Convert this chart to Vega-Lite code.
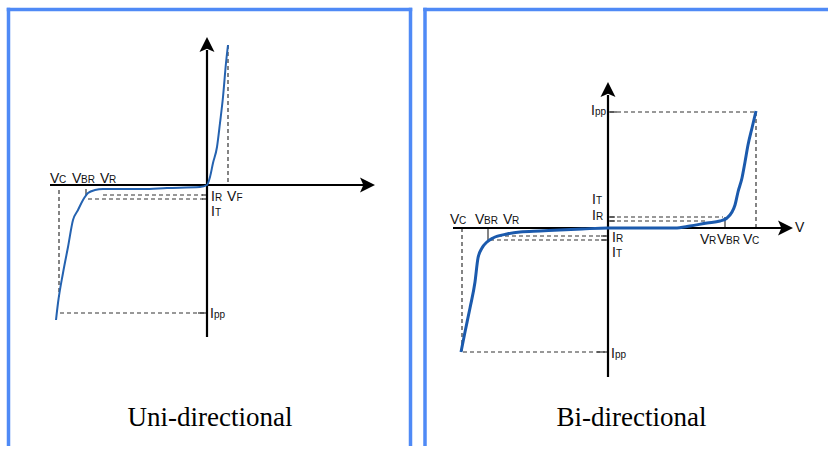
{
  "$schema": "https://vega.github.io/schema/vega-lite/v6.json",
  "padding": 0,
  "spacing": 0,
  "bounds": "flush",
  "background": "white",
  "config": {"view": {"stroke": null}},
  "datasets": {
    "curve1": [
      {"u": -151, "v": -135}, {"u": -149, "v": -118}, {"u": -144, "v": -88}, {"u": -139, "v": -62},
      {"u": -134, "v": -35}, {"u": -129, "v": -25}, {"u": -124, "v": -15}, {"u": -119, "v": -8},
      {"u": -112, "v": -5}, {"u": -104, "v": -4}, {"u": -64, "v": -4}, {"u": -40, "v": -3},
      {"u": -7, "v": -2}, {"u": 0, "v": 0}, {"u": 3, "v": 8}, {"u": 6, "v": 22}, {"u": 10, "v": 38},
      {"u": 13, "v": 62}, {"u": 16, "v": 88}, {"u": 19, "v": 122}, {"u": 21, "v": 140}
    ],
    "guides1": [
      {"u": -148, "v": -5, "u2": -148, "v2": -112},
      {"u": -147, "v": -128, "u2": -2, "v2": -128},
      {"u": 21, "v": 140, "u2": 21, "v2": 0},
      {"u": -104, "v": -10, "u2": -4, "v2": -10},
      {"u": -119, "v": -14, "u2": -4, "v2": -14}
    ],
    "ticks1": [
      {"u": -121, "v": -4, "u2": -121, "v2": -11},
      {"u": -5, "v": -10, "u2": -1, "v2": -10},
      {"u": -5, "v": -14, "u2": -1, "v2": -14},
      {"u": -9, "v": -128, "u2": -1, "v2": -128}
    ],
    "axes1": [
      {"u": 0, "v": 135, "u2": 0, "v2": -152},
      {"u": -157, "v": 0, "u2": 159, "v2": 0}
    ],
    "arrows1": [
      {"u": 0, "v": 140.5, "dir": "up"},
      {"u": 160.5, "v": 0, "dir": "right"}
    ],
    "labels1": [
      {"u": -157, "v": 2, "t": "V"}, {"u": -135, "v": 2, "t": "V"}, {"u": -107, "v": 2, "t": "V"},
      {"u": 4, "v": -16, "t": "I"}, {"u": 20, "v": -16, "t": "V"}, {"u": 4, "v": -31, "t": "I"},
      {"u": 3, "v": -133, "t": "I"}
    ],
    "subs1": [
      {"u": -148, "v": 2, "t": "C"}, {"u": -126, "v": 2, "t": "BR"}, {"u": -98, "v": 2, "t": "R"},
      {"u": 8, "v": -16, "t": "R"}, {"u": 29.5, "v": -16, "t": "F"}, {"u": 8, "v": -31, "t": "T"},
      {"u": 7, "v": -133, "t": "pp"}
    ],
    "border1": [
      {"u": -198.5, "v": 177.25, "u2": -198.5, "v2": -261},
      {"u": -200.25, "v": 175.5, "u2": 205.25, "v2": 175.5},
      {"u": 203.5, "v": 177.25, "u2": 203.5, "v2": -261}
    ],
    "title1": [{"u": 3, "v": -241, "t": "Uni-directional"}],
    "curve2": [
      {"u": -147, "v": -124}, {"u": -143, "v": -104}, {"u": -138, "v": -80}, {"u": -133, "v": -54},
      {"u": -130, "v": -30}, {"u": -126, "v": -20}, {"u": -121, "v": -14}, {"u": -115, "v": -10},
      {"u": -101, "v": -6}, {"u": -88, "v": -4}, {"u": -68, "v": -3}, {"u": -26, "v": -1},
      {"u": 0, "v": 0}, {"u": 67, "v": 0}, {"u": 82, "v": 2}, {"u": 99, "v": 5}, {"u": 112, "v": 7},
      {"u": 119, "v": 10}, {"u": 124, "v": 16}, {"u": 127, "v": 23}, {"u": 130, "v": 36},
      {"u": 134, "v": 50}, {"u": 137, "v": 66}, {"u": 140, "v": 83}, {"u": 144, "v": 100}, {"u": 148, "v": 117}
    ],
    "guides2": [
      {"u": 2, "v": 116, "u2": 148, "v2": 116},
      {"u": 148, "v": 116, "u2": 148, "v2": 0},
      {"u": -145, "v": -124, "u2": -3, "v2": -124},
      {"u": -146, "v": 0, "u2": -146, "v2": -124},
      {"u": 2, "v": 11, "u2": 115, "v2": 11},
      {"u": 2, "v": 7, "u2": 97, "v2": 7},
      {"u": -110, "v": -8, "u2": -2, "v2": -8},
      {"u": -118, "v": -12, "u2": -2, "v2": -12}
    ],
    "ticks2": [
      {"u": 117, "v": 11, "u2": 117, "v2": 0},
      {"u": -120, "v": 0, "u2": -120, "v2": -12},
      {"u": 1, "v": 11, "u2": 7, "v2": 11},
      {"u": 1, "v": 7, "u2": 7, "v2": 7},
      {"u": -7, "v": -8, "u2": -1, "v2": -8},
      {"u": -7, "v": -12, "u2": -1, "v2": -12},
      {"u": 0, "v": 116, "u2": 9, "v2": 116},
      {"u": -11, "v": -124, "u2": -1, "v2": -124}
    ],
    "axes2": [
      {"u": 0, "v": 133, "u2": 0, "v2": -149},
      {"u": -155, "v": 0, "u2": 177, "v2": 0}
    ],
    "arrows2": [
      {"u": 0, "v": 138.5, "dir": "up"},
      {"u": 177.5, "v": 0, "dir": "right"}
    ],
    "labels2": [
      {"u": -158, "v": 4, "t": "V"}, {"u": -133, "v": 4, "t": "V"}, {"u": -105, "v": 4, "t": "V"},
      {"u": -16, "v": 24, "t": "I"}, {"u": -16, "v": 8, "t": "I"}, {"u": 4, "v": -14, "t": "I"},
      {"u": 4, "v": -29, "t": "I"}, {"u": -17, "v": 113, "t": "I"}, {"u": 3, "v": -130, "t": "I"},
      {"u": 92, "v": -16, "t": "V"}, {"u": 109, "v": -16, "t": "V"}, {"u": 135, "v": -16, "t": "V"},
      {"u": 187, "v": -4, "t": "V"}
    ],
    "subs2": [
      {"u": -149, "v": 4, "t": "C"}, {"u": -124, "v": 4, "t": "BR"}, {"u": -96, "v": 4, "t": "R"},
      {"u": -12, "v": 24, "t": "T"}, {"u": -12, "v": 8, "t": "R"}, {"u": 8, "v": -14, "t": "R"},
      {"u": 8, "v": -29, "t": "T"}, {"u": -13, "v": 113, "t": "pp"}, {"u": 7, "v": -130, "t": "pp"},
      {"u": 101, "v": -16, "t": "R"}, {"u": 118, "v": -16, "t": "BR"}, {"u": 144, "v": -16, "t": "C"}
    ],
    "border2": [
      {"u": -183, "v": 220.25, "u2": -183, "v2": -218},
      {"u": -184.75, "v": 218.5, "u2": 220, "v2": 218.5}
    ],
    "title2": [{"u": 23.5, "v": -198, "t": "Bi-directional"}]
  },
  "hconcat": [
    {
      "width": 415,
      "height": 450,
      "encoding": {
        "x": {"field": "u", "type": "quantitative", "scale": {"domain": [-207, 208], "nice": false, "zero": false}, "axis": null},
        "y": {"field": "v", "type": "quantitative", "scale": {"domain": [-265, 185], "nice": false, "zero": false}, "axis": null}
      },
      "layer": [
        {"data": {"name": "border1"}, "mark": {"type": "rule", "color": "#4f8af6", "strokeWidth": 3.5}, "encoding": {"x2": {"field": "u2"}, "y2": {"field": "v2"}}},
        {"data": {"name": "guides1"}, "mark": {"type": "rule", "color": "#333333", "strokeWidth": 1.2, "strokeDash": [4, 3]}, "encoding": {"x2": {"field": "u2"}, "y2": {"field": "v2"}}},
        {"data": {"name": "ticks1"}, "mark": {"type": "rule", "color": "#333333", "strokeWidth": 1.2}, "encoding": {"x2": {"field": "u2"}, "y2": {"field": "v2"}}},
        {"data": {"name": "axes1"}, "mark": {"type": "rule", "color": "#000000", "strokeWidth": 2.2}, "encoding": {"x2": {"field": "u2"}, "y2": {"field": "v2"}}},
        {"data": {"name": "arrows1"}, "mark": {"type": "point", "filled": true, "color": "#000000", "size": 225, "opacity": 1, "strokeWidth": 0},
          "encoding": {"shape": {"field": "dir", "type": "nominal", "scale": {"domain": ["up", "right"], "range": ["M0,-1L1,1L0,0.55L-1,1Z", "M1,0L-1,1L-0.55,0L-1,-1Z"]}, "legend": null}}},
        {"data": {"name": "curve1"}, "mark": {"type": "line", "color": "#2462b0", "strokeWidth": 2, "interpolate": "monotone"}, "encoding": {}},
        {"data": {"name": "labels1"}, "mark": {"type": "text", "align": "left", "baseline": "alphabetic", "font": "Liberation Sans", "fontSize": 14, "color": "#111111"}, "encoding": {"text": {"field": "t"}}},
        {"data": {"name": "subs1"}, "mark": {"type": "text", "align": "left", "baseline": "alphabetic", "font": "Liberation Sans", "fontSize": 10, "color": "#111111"}, "encoding": {"text": {"field": "t"}}},
        {"data": {"name": "title1"}, "mark": {"type": "text", "align": "center", "baseline": "alphabetic", "font": "Liberation Serif", "fontSize": 27, "color": "#000000"}, "encoding": {"text": {"field": "t"}}}
      ]
    },
    {
      "width": 415,
      "height": 450,
      "encoding": {
        "x": {"field": "u", "type": "quantitative", "scale": {"domain": [-193, 222], "nice": false, "zero": false}, "axis": null},
        "y": {"field": "v", "type": "quantitative", "scale": {"domain": [-222, 228], "nice": false, "zero": false}, "axis": null}
      },
      "layer": [
        {"data": {"name": "border2"}, "mark": {"type": "rule", "color": "#4f8af6", "strokeWidth": 3.5}, "encoding": {"x2": {"field": "u2"}, "y2": {"field": "v2"}}},
        {"data": {"name": "guides2"}, "mark": {"type": "rule", "color": "#333333", "strokeWidth": 1.2, "strokeDash": [4, 3]}, "encoding": {"x2": {"field": "u2"}, "y2": {"field": "v2"}}},
        {"data": {"name": "ticks2"}, "mark": {"type": "rule", "color": "#333333", "strokeWidth": 1.2}, "encoding": {"x2": {"field": "u2"}, "y2": {"field": "v2"}}},
        {"data": {"name": "axes2"}, "mark": {"type": "rule", "color": "#000000", "strokeWidth": 2.2}, "encoding": {"x2": {"field": "u2"}, "y2": {"field": "v2"}}},
        {"data": {"name": "arrows2"}, "mark": {"type": "point", "filled": true, "color": "#000000", "size": 225, "opacity": 1, "strokeWidth": 0},
          "encoding": {"shape": {"field": "dir", "type": "nominal", "scale": {"domain": ["up", "right"], "range": ["M0,-1L1,1L0,0.55L-1,1Z", "M1,0L-1,1L-0.55,0L-1,-1Z"]}, "legend": null}}},
        {"data": {"name": "curve2"}, "mark": {"type": "line", "color": "#1b5aad", "strokeWidth": 3, "interpolate": "monotone"}, "encoding": {}},
        {"data": {"name": "labels2"}, "mark": {"type": "text", "align": "left", "baseline": "alphabetic", "font": "Liberation Sans", "fontSize": 14, "color": "#111111"}, "encoding": {"text": {"field": "t"}}},
        {"data": {"name": "subs2"}, "mark": {"type": "text", "align": "left", "baseline": "alphabetic", "font": "Liberation Sans", "fontSize": 10, "color": "#111111"}, "encoding": {"text": {"field": "t"}}},
        {"data": {"name": "title2"}, "mark": {"type": "text", "align": "center", "baseline": "alphabetic", "font": "Liberation Serif", "fontSize": 27, "color": "#000000"}, "encoding": {"text": {"field": "t"}}}
      ]
    }
  ]
}
